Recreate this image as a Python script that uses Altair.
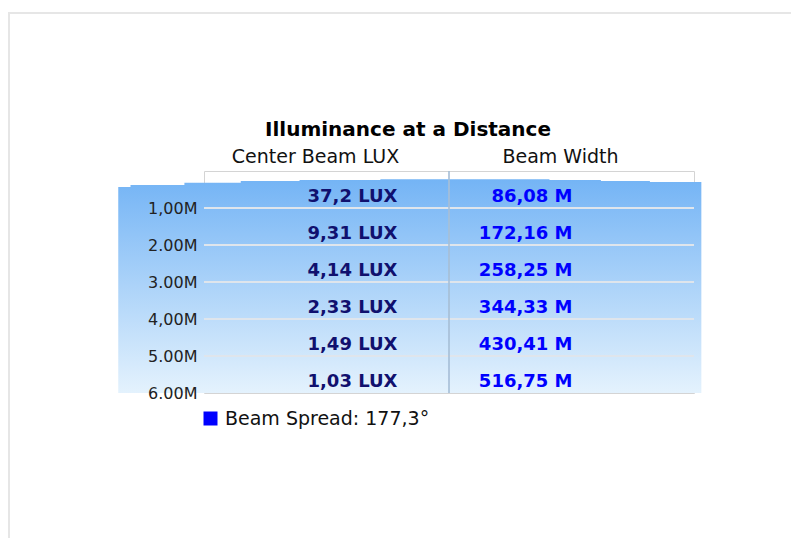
import altair as alt
import pandas as pd

# ---- data ----
distances = [1, 2, 3, 4, 5, 6]
distance_labels = ["1,00M", "2.00M", "3.00M", "4,00M", "5.00M", "6.00M"]
lux_values = ["37,2 LUX", "9,31 LUX", "4,14 LUX", "2,33 LUX", "1,49 LUX", "1,03 LUX"]
width_values = ["86,08 M", "172,16 M", "258,25 M", "344,33 M", "430,41 M", "516,75 M"]
columns = ["Center Beam LUX", "Beam Width"]
title_text = "Illuminance at a Distance"
legend_label = "Beam Spread: 177,3°"

# decorative background band: top edge (x in column units, y in distance units)
band_x = [-0.35, -0.30, -0.08, 0.15, 0.39, 0.72, 1.41, 1.62, 1.82, 2.03]
band_top = [0.43, 0.38, 0.32, 0.27, 0.24, 0.22, 0.24, 0.27, 0.30, 0.30]

FONT = "DejaVu Sans"

table = pd.DataFrame({"distance": distances, "lux": lux_values, "width": width_values,
                      "series": [legend_label] * len(distances)})
band = pd.DataFrame({"bx": band_x, "top": band_top})

y_scale = alt.Scale(domain=[0, 6], reverse=True, nice=False, zero=False)
x_band = alt.Scale(domain=columns, paddingInner=0, paddingOuter=0)

label_list = "[" + ",".join("'%s'" % s for s in distance_labels) + "]"

header_axis = alt.Axis(orient="top", ticks=False, domain=False, grid=False,
                       labelAngle=0, labelPadding=5, labelOffset=-11,
                       labelFontSize=19, labelColor="#111111", labelFont=FONT,
                       title=None)

gradient = alt.Gradient(
    gradient="linear",
    stops=[alt.GradientStop(color="#74b4f5", offset=0),
           alt.GradientStop(color="#e4f2fd", offset=1)],
    x1=0, x2=0, y1=0, y2=1,
)

background = alt.Chart(band).mark_area(interpolate="step-after", fill=gradient, clip=False).encode(
    x=alt.X("bx:Q", scale=alt.Scale(domain=[0, 2], nice=False, zero=False), axis=None),
    y=alt.Y("top:Q", scale=y_scale, axis=alt.Axis(
        values=distances, labelExpr=label_list + "[datum.value-1]",
        ticks=False, domain=False, grid=False, labelPadding=7, zindex=2,
        labelFontSize=16, labelColor="#222222", labelFont=FONT, title=None)),
    y2=alt.datum(6),
)

row_lines = alt.Chart(table).transform_filter("datum.distance < 6").mark_rule(
    color="#dfe5ec", strokeWidth=2
).encode(y=alt.Y("distance:Q", scale=y_scale))

divider = alt.Chart(table).mark_rule(color="#a9c2da", opacity=0.5, strokeWidth=1).encode(
    x=alt.XDatum(columns[1], type="nominal", bandPosition=0, scale=x_band, axis=header_axis),
)

lux_text = alt.Chart(table).mark_text(
    align="right", baseline="alphabetic", dx=71, dy=-6,
    font=FONT, fontSize=18, fontWeight="bold", color="#10106e"
).encode(
    x=alt.XDatum(columns[0], type="nominal", scale=x_band, axis=header_axis),
    y=alt.Y("distance:Q", scale=y_scale),
    text="lux:N",
)

width_text = alt.Chart(table).mark_text(
    align="right", baseline="alphabetic", dx=1, dy=-6,
    font=FONT, fontSize=18, fontWeight="bold"
).encode(
    x=alt.XDatum(columns[1], type="nominal", scale=x_band, axis=header_axis),
    y=alt.Y("distance:Q", scale=y_scale),
    text="width:N",
    color=alt.Color("series:N",
                    scale=alt.Scale(domain=[legend_label], range=["#0000ff"]),
                    legend=alt.Legend(orient="none", legendX=-3, legendY=238,
                                      symbolType="square", symbolSize=196,
                                      symbolStrokeWidth=0, symbolOpacity=1,
                                      labelFontSize=19, labelFont=FONT, labelLimit=400,
                                      labelColor="#111111", labelOffset=5,
                                      padding=0, title=None)),
)

frame_top = alt.Chart(table).mark_rule(color="#e6e6e6", strokeWidth=2).encode(
    x=alt.value(-196), x2=alt.value(620), y=alt.value(-158))
frame_left = alt.Chart(table).mark_rule(color="#e6e6e6", strokeWidth=2).encode(
    x=alt.value(-195), y=alt.value(-159), y2=alt.value(400))

table_layer = alt.layer(row_lines, divider, lux_text, width_text, frame_top, frame_left)

chart = alt.layer(background, table_layer).resolve_scale(x="independent").properties(
    width=490, height=222,
    autosize=alt.AutoSizeParams(type="none"),
    padding={"left": 196, "top": 163, "right": 97, "bottom": 145},
    title=alt.TitleParams(title_text, fontSize=20, font=FONT, fontWeight="bold",
                          color="#000000", anchor="middle", frame="group",
                          dx=-41, offset=-129),
    background="white",
).configure_view(stroke="#d4d4d4", strokeWidth=1)

chart.save("out.html", embed_options={"renderer": "svg", "actions": False})
